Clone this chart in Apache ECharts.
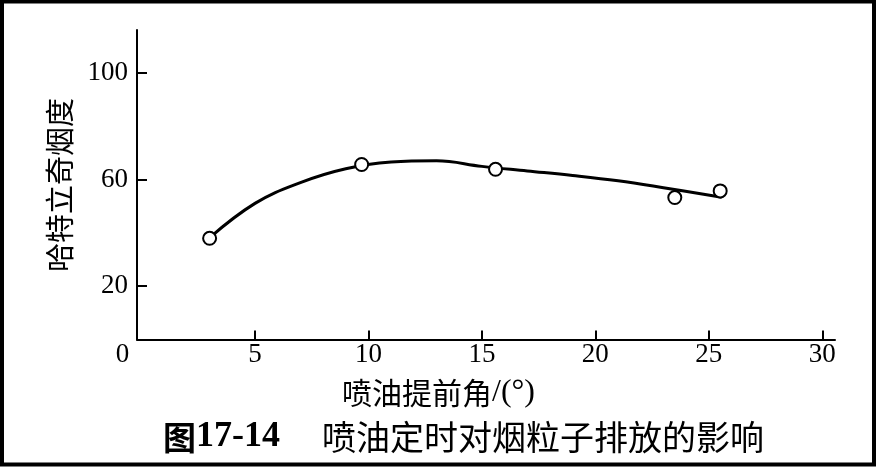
<!DOCTYPE html>
<html>
<head>
<meta charset="utf-8">
<script src="https://cdn.jsdelivr.net/npm/echarts@6/dist/echarts.min.js"></script>
<style>
html,body{margin:0;padding:0;background:#fff;}
#c{width:876px;height:468px;}
</style>
</head>
<body>
<div id="c"></div>
<script>
// Measured points (喷油提前角 °, 哈特立奇烟度)
const pointX = [3.0, 9.7, 15.6, 23.5, 25.5];
const pointY = [38.0, 65.7, 63.9, 53.3, 55.8];
// Fitted curve drawn through the data
const curveX = [2.97, 5, 7, 9, 11, 13, 15, 17, 19, 21, 23, 25.57];
const curveY = [38.0, 51.1, 58.9, 64.1, 66.6, 67.1, 65.0, 63.3, 61.6, 59.6, 57.0, 53.4];
const xTicks = [0, 5, 10, 15, 20, 25, 30];
const yTicks = [20, 60, 100];
const xNameMain = '喷油提前角';
const xNameUnit = '/(°)';
const yName = '哈特立奇烟度';
const figNo = '17-14';
const figCaption = '喷油定时对烟粒子排放的影响';

const chart = echarts.init(document.getElementById('c'), null, {renderer: 'canvas'});
const serif = '"Liberation Serif", "DejaVu Serif", serif';
const cjk = '"Noto Sans CJK SC", sans-serif';

chart.setOption({
  animation: false,
  backgroundColor: '#fff',
  grid: {left: 137, right: 41, top: 30, bottom: 128.5, containLabel: false},
  xAxis: {
    type: 'value', min: -0.2, max: 30.56,
    axisLine: {show: true, onZero: false, lineStyle: {color: '#000', width: 2}},
    axisTick: {show: true, inside: true, length: 9, customValues: xTicks.slice(1), lineStyle: {color: '#000', width: 2}},
    axisLabel: {
      customValues: xTicks, color: '#000', fontFamily: serif, fontSize: 27, margin: 2,
      formatter: v => v === 0 ? '{z|0}' : String(v),
      rich: {z: {fontFamily: serif, fontSize: 27, color: '#000', padding: [0, 38, 0, 0]}}
    },
    splitLine: {show: false}
  },
  yAxis: {
    type: 'value', min: 0, max: 116.2,
    axisLine: {show: true, onZero: false, lineStyle: {color: '#000', width: 2}},
    axisTick: {show: true, inside: true, length: 10, customValues: yTicks, lineStyle: {color: '#000', width: 2}},
    axisLabel: {customValues: yTicks, color: '#000', fontFamily: serif, fontSize: 27, margin: 9},
    splitLine: {show: false}
  },
  series: [
    {
      type: 'line', data: curveX.map((x, i) => [x, curveY[i]]),
      smooth: 0.4, showSymbol: false, symbol: 'none',
      lineStyle: {color: '#000', width: 3}, z: 2
    },
    {
      type: 'scatter', data: pointX.map((x, i) => [x, pointY[i]]),
      symbol: 'circle', symbolSize: 13,
      itemStyle: {color: '#fff', borderColor: '#000', borderWidth: 2, opacity: 1}, z: 3
    }
  ],
  graphic: [
    {type: 'rect', shape: {x: 2, y: 1.5, width: 872, height: 463}, style: {fill: 'none', stroke: '#000', lineWidth: 4}, silent: true},
    {type: 'text', x: 342, y: 393, style: {
      text: '{m|' + xNameMain + '}{u|' + xNameUnit + '}', textAlign: 'left', textVerticalAlign: 'middle',
      rich: {m: {fontFamily: cjk, fontSize: 30, fill: '#000'}, u: {fontFamily: serif, fontSize: 32, fill: '#000'}}
    }},
    {type: 'text', x: 60, y: 185, rotation: Math.PI / 2, style: {text: yName, font: '29px ' + cjk, fill: '#000', textAlign: 'center', textVerticalAlign: 'middle'}},
    {type: 'text', x: 163, y: 437, style: {
      text: '{a|图}{b|' + figNo + '}', textAlign: 'left', textVerticalAlign: 'middle',
      rich: {
        a: {fontFamily: cjk, fontWeight: 'bold', fontSize: 33, fill: '#000'},
        b: {fontFamily: serif, fontWeight: 'bold', fontSize: 36, fill: '#000'}
      }
    }},
    {type: 'text', x: 322, y: 437, style: {text: figCaption, font: '34px ' + cjk, fill: '#000', textAlign: 'left', textVerticalAlign: 'middle'}}
  ]
});
</script>
</body>
</html>
